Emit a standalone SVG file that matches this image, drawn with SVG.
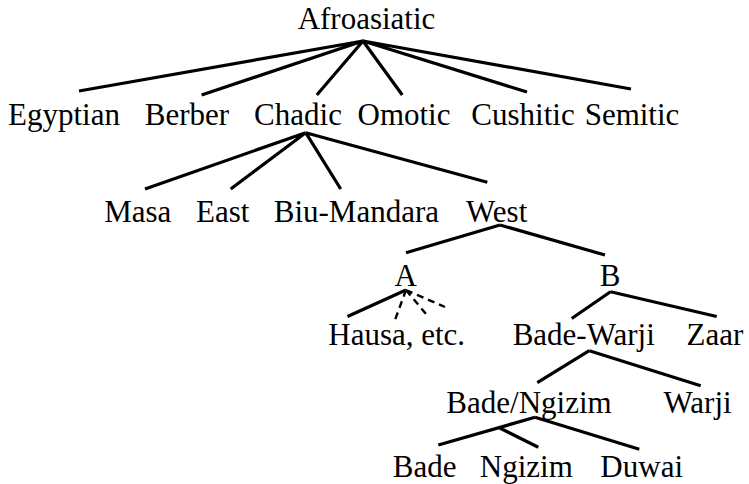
<svg xmlns="http://www.w3.org/2000/svg" width="749" height="484" viewBox="0 0 749 484">
<style>
text{font-family:"Liberation Serif","Times New Roman",serif;font-size:31px;fill:#000;text-anchor:middle}
.e{stroke:#000;stroke-width:3.2;fill:none;stroke-linecap:butt}
.d{stroke:#000;stroke-width:2.4;fill:none;stroke-dasharray:7 5}
</style>
<rect width="749" height="484" fill="#fff"/>
<g id="connectors">
<path class="e" d="M363 41 L79 91 M363 41 L201.6 95 M363 41 L316.8 95 M363 41 L402.3 95 M363 41 L527 92 M363 41 L631 89"/>
<path class="e" d="M305.7 132.7 L145 189 M305.7 132.7 L230.7 189 M305.7 132.7 L340.7 189 M305.7 132.7 L487.3 182.3"/>
<path class="e" d="M500 225 L406 252.7 M500 225 L605 255"/>
<path class="e" d="M406 290 L347.5 316.5"/>
<path class="d" d="M406 290 L395 320 M406 290 L426 314 M406 290 L445 307"/>
<path class="e" d="M610.5 291.7 L571.7 318.5 M610.5 291.7 L716.7 316.5"/>
<path class="e" d="M589.3 350.7 L537.3 382.7 M589.3 350.7 L700.7 385.7"/>
<path class="e" d="M535 417.3 L438.3 445 M535 417.3 L639.3 449.3 M498.3 427.3 L538.3 447.3"/>
</g>
<g id="afroasiatic"><text x="366.5" y="28.5">Afroasiatic</text></g>
<g id="egyptian"><text x="64" y="125">Egyptian</text></g>
<g id="berber"><text x="187" y="125">Berber</text></g>
<g id="chadic"><text x="298" y="125">Chadic</text></g>
<g id="omotic"><text x="404" y="125">Omotic</text></g>
<g id="cushitic"><text x="523" y="125">Cushitic</text></g>
<g id="semitic"><text x="632" y="125">Semitic</text></g>
<g id="masa"><text x="137.8" y="222">Masa</text></g>
<g id="east"><text x="222.7" y="222">East</text></g>
<g id="biu-mandara"><text x="356.4" y="222">Biu-Mandara</text></g>
<g id="west"><text x="496.7" y="222">West</text></g>
<g id="a"><text x="405.8" y="286">A</text></g>
<g id="b"><text x="610" y="286">B</text></g>
<g id="hausa"><text x="396.7" y="345">Hausa, etc.</text></g>
<g id="bade-warji"><text x="583.7" y="345">Bade-Warji</text></g>
<g id="zaar"><text x="715" y="345">Zaar</text></g>
<g id="bade-ngizim"><text x="529" y="412.7">Bade/Ngizim</text></g>
<g id="warji"><text x="697.6" y="412.7">Warji</text></g>
<g id="bade"><text x="424.7" y="477.3">Bade</text></g>
<g id="ngizim"><text x="526.3" y="477.3">Ngizim</text></g>
<g id="duwai"><text x="641.7" y="477.3">Duwai</text></g>
</svg>
